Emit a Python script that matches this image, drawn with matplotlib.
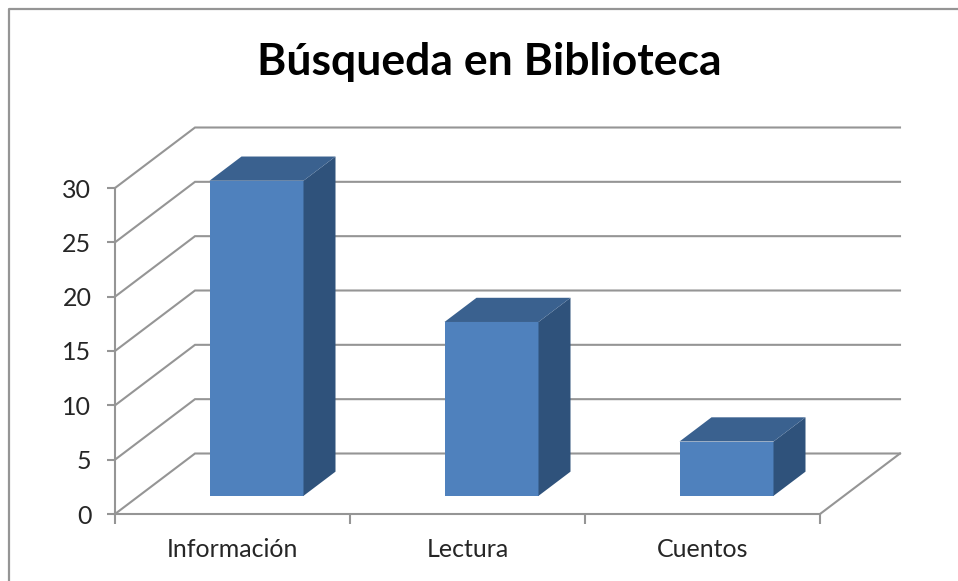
import matplotlib
matplotlib.use("Agg")
import matplotlib.pyplot as plt
from matplotlib.patches import Polygon
from matplotlib.lines import Line2D

categories = ["Información", "Lectura", "Cuentos"]
values = [29, 16, 5]
y_ticks = [0, 5, 10, 15, 20, 25, 30]
title = "Búsqueda en Biblioteca"

W, H = 958, 581
plt.rcParams['font.family'] = ['Lato', 'DejaVu Sans']
fig = plt.figure(figsize=(W / 100, H / 100), dpi=100, facecolor="white")
L, R, T, B = 115, 820, 188, 514
ax = fig.add_axes([L / W, 1 - B / H, (R - L) / W, (B - T) / H], facecolor="none")
ax.set_xlim(0, len(categories))
ax.set_ylim(0, 30)

GREY = "#959595"
LW = 1.5
DEPTH_X = 80 * len(categories) / (R - L)
DEPTH_Y = 60.5 * 30 / (B - T)


def pr(x, y, d=0.0):
    """Oblique projection of a point at depth d (0 front wall, 1 back wall)."""
    return (x + d * DEPTH_X, y + d * DEPTH_Y)


# walls and gridlines
for v in y_ticks:
    a, b, c = pr(0, v), pr(0, v, 1), pr(len(categories), v, 1)
    ax.plot([a[0], b[0], c[0]], [a[1], b[1], c[1]], color=GREY, lw=LW,
            clip_on=False, zorder=1, solid_joinstyle="miter")
a, b = pr(len(categories), 0), pr(len(categories), 0, 1)
ax.plot([a[0], b[0]], [a[1], b[1]], color=GREY, lw=LW, clip_on=False, zorder=1)

# bars
d0, d1 = 0.30, 0.70
width = 0.40
for i, v in enumerate(values):
    x0, x1 = i + 0.5 - width / 2, i + 0.5 + width / 2
    ax.add_patch(Polygon([pr(x0, 0, d0), pr(x1, 0, d0), pr(x1, v, d0), pr(x0, v, d0)],
                         fc="#4F81BD", ec="none", clip_on=False, zorder=3))
    ax.add_patch(Polygon([pr(x1, 0, d0), pr(x1, 0, d1), pr(x1, v, d1), pr(x1, v, d0)],
                         fc="#2F527B", ec="none", clip_on=False, zorder=3))
    ax.add_patch(Polygon([pr(x0, v, d0), pr(x1, v, d0), pr(x1, v, d1), pr(x0, v, d1)],
                         fc="#3A618F", ec="none", clip_on=False, zorder=3))

# axes
for s in ("top", "right"):
    ax.spines[s].set_visible(False)
for s in ("left", "bottom"):
    ax.spines[s].set_color(GREY)
    ax.spines[s].set_linewidth(LW)
    ax.spines[s].set_zorder(2)
ax.set_yticks(y_ticks)
ax.set_xticks(range(len(categories) + 1))
ax.set_xticklabels([])
ax.set_xticks([i + 0.5 for i in range(len(categories))], minor=True)
ax.set_xticklabels(categories, minor=True)
ax.tick_params(axis="x", which="major", length=7, width=LW, color=GREY)
ax.tick_params(axis="x", which="minor", length=0, pad=17.5, labelsize=18, labelcolor="#262626")
ax.tick_params(axis="y", length=6, width=LW, color=GREY, pad=11, labelsize=18, labelcolor="#262626")

fig.text(489 / W, 1 - 61.5 / H, title, ha="center", va="center", fontsize=32,
         fontweight="bold", color="black")

# outer frame: left and top edges only run inside the picture
frame_x = [8.5 / W, 8.5 / W, 1]
frame_y = [0, 1 - 8.5 / H, 1 - 8.5 / H]
fig.add_artist(Line2D(frame_x, frame_y, color=GREY, lw=1.6, transform=fig.transFigure))

fig.savefig("out.png", dpi=100)
